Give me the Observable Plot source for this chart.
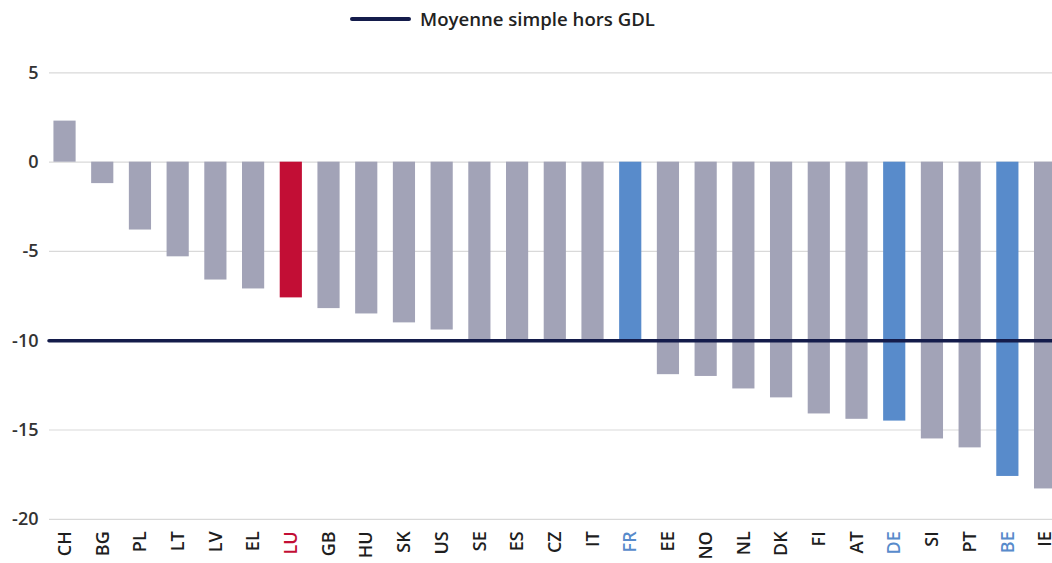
<!DOCTYPE html>
<html>
<head>
<meta charset="utf-8">
<script src="https://cdn.jsdelivr.net/npm/d3@7"></script>
<script src="https://cdn.jsdelivr.net/npm/@observablehq/plot@0.6"></script>
<style>
  html, body { margin: 0; padding: 0; background: #fff; overflow: hidden; width: 1052px; height: 563px; }
  #legend { position: relative; height: 40px; font-family: "Open Sans", sans-serif; }
  #legend .sw { position: absolute; left: 350px; top: 17px; width: 61px; height: 4px; background: #141c4b; border-radius: 2px; }
  #legend .lb { position: absolute; left: 420px; top: 6px; font-size: 18.6px; font-weight: 600; color: #222; line-height: 26px; white-space: nowrap; }
  #chart svg { max-width: none !important; display: block; }
</style>
</head>
<body>
<div id="legend"><span class="sw"></span><span class="lb" id="legendText"></span></div>
<div id="chart"></div>
<script>
const categories = ["CH","BG","PL","LT","LV","EL","LU","GB","HU","SK","US","SE","ES","CZ","IT","FR","EE","NO","NL","DK","FI","AT","DE","SI","PT","BE","IE"];
const values = [2.3, -1.2, -3.8, -5.3, -6.6, -7.1, -7.6, -8.2, -8.5, -9.0, -9.4, -9.95, -9.95, -9.95, -9.95, -9.95, -11.9, -12.0, -12.7, -13.2, -14.1, -14.4, -14.5, -15.5, -16.0, -17.6, -18.3];
const meanValue = -10;
const legendLabel = "Moyenne simple hors GDL";
const yTicks = [5, 0, -5, -10, -15, -20];
const gridTicks = [5, 0, -5, -15, -20];
const redCats = ["LU"];
const blueCats = ["FR", "DE", "BE"];

const data = categories.map((c, i) => ({c, v: values[i]}));

const barColor = c => redCats.includes(c) ? "#c20e35" : blueCats.includes(c) ? "#588bcb" : "#a2a3b7";
const labelColor = c => redCats.includes(c) ? "#c20e35" : blueCats.includes(c) ? "#588bcb" : "#1e1e1e";

document.getElementById("legendText").textContent = legendLabel;

const chart = Plot.plot({
  width: 1062,
  height: 523,
  marginTop: 32.4,
  marginBottom: 44.2,
  marginLeft: 49,
  marginRight: 1,
  style: { fontFamily: "Open Sans, sans-serif", background: "#fff", overflow: "visible" },
  x: { domain: categories, range: [37.9, 1071.7], padding: 0.412, round: false, label: null },
  y: { domain: [-20, 5], label: null },
  marks: [
    Plot.ruleY(gridTicks, { stroke: "#d9d9d9", strokeWidth: 1.2 }),
    Plot.barY(data, { x: "c", y: "v", fill: d => barColor(d.c) }),
    Plot.ruleY([meanValue], { stroke: "#141c4b", strokeWidth: 3.5, strokeLinecap: "round" }),
    Plot.axisY(yTicks, { tickSize: 0, tickPadding: 11, fontSize: 18, fontWeight: 600, fill: "#333", tickFormat: d => String(d), label: null }),
    Plot.axisX({ tickSize: 0, tickPadding: 12, tickRotate: -90, fontSize: 18, fontWeight: 600, fill: d => labelColor(d), label: null })
  ]
});
document.getElementById("chart").appendChild(chart);
</script>
</body>
</html>
